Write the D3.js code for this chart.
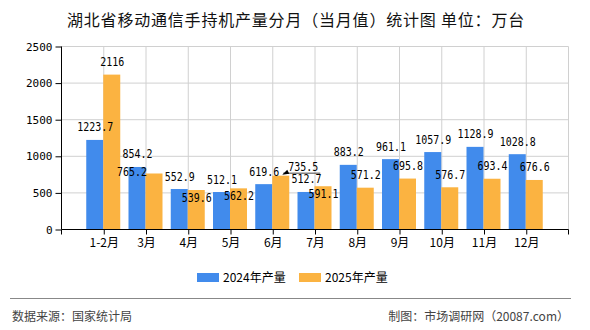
<!DOCTYPE html>
<html>
<head>
<meta charset="utf-8">
<script src="https://cdn.jsdelivr.net/npm/d3@7"></script>
<style>
  body { margin: 0; background: #fff; }
  svg { display: block; }
</style>
</head>
<body>
<svg id="chart" width="590" height="330"></svg>
<script>
// data
var months = ['1-2月', '3月', '4月', '5月', '6月', '7月', '8月', '9月', '10月', '11月', '12月'];
var series = ['2024年产量', '2025年产量'];
var values2024 = [1223.7, 854.2, 552.9, 512.1, 619.6, 512.7, 883.2, 961.1, 1057.9, 1128.9, 1028.8];
var values2025 = [2116, 765.2, 539.6, 562.2, 735.5, 591.1, 571.2, 695.8, 576.7, 693.4, 676.6];
var yTicks = [0, 500, 1000, 1500, 2000, 2500];

var colors = ['#418bec', '#fbb341'];
var monoFont = '"DejaVu Sans Mono", "Liberation Mono", monospace';
var cjkFont = '"Noto Sans CJK SC", "Noto Sans", sans-serif';

var svg = d3.select('#chart');

// plot box (window.top is reserved, so plot* names)
var plotLeft = 61.5, plotRight = 568.5, plotTop = 46.5, plotBottom = 229.5;

var x = d3.scalePoint().domain(months).range([plotLeft, plotRight]).padding(1);
var x1 = d3.scaleBand().domain(series).range([-17, 17]);
var y = d3.scaleLinear().domain([0, 2500]).range([plotBottom, plotTop]);

// title
svg.append('text')
   .attr('x', 296)
   .attr('y', 26)
   .attr('text-anchor', 'middle')
   .attr('font-family', cjkFont)
   .attr('font-size', 16)
   .attr('letter-spacing', 0.8)
   .attr('fill', '#111')
   .text('湖北省移动通信手持机产量分月（当月值）统计图 单位：万台');

// gridlines
var grid = svg.append('g').attr('stroke', '#d0d0d0').attr('stroke-width', 1);
yTicks.filter(t => t > 0).forEach(t => {
  grid.append('line').attr('x1', plotLeft).attr('x2', plotRight).attr('y1', y(t)).attr('y2', y(t));
});
months.forEach(m => {
  grid.append('line').attr('x1', x(m)).attr('x2', x(m)).attr('y1', plotTop).attr('y2', plotBottom);
});
grid.append('line').attr('x1', plotRight).attr('x2', plotRight).attr('y1', plotTop).attr('y2', plotBottom);

// bars
var data = [values2024, values2025];
data.forEach((vals, s) => {
  svg.append('g')
     .selectAll('rect')
     .data(vals)
     .enter()
     .append('rect')
     .attr('x', (d, i) => x(months[i]) + x1(series[s]) - 0.5)
     .attr('y', d => y(d))
     .attr('width', x1.bandwidth())
     .attr('height', d => plotBottom - y(d))
     .attr('fill', colors[s]);
});

// y axis
var yAxis = svg.append('g')
   .attr('transform', 'translate(' + plotLeft + ',0)')
   .call(d3.axisLeft(y).tickValues(yTicks).tickSize(6).tickPadding(3).tickFormat(d3.format('d')));
yAxis.selectAll('text').attr('font-family', monoFont).attr('font-size', 11).attr('fill', '#000');
yAxis.selectAll('line, path').attr('stroke', '#000');
yAxis.select('.domain').attr('d', 'M0,' + plotTop + 'V' + plotBottom);

// x axis
var xAxis = svg.append('g')
   .attr('transform', 'translate(0,' + plotBottom + ')')
   .call(d3.axisBottom(x).tickSize(5).tickPadding(4));
xAxis.selectAll('text').attr('font-family', cjkFont).attr('font-size', 12).attr('fill', '#000');
xAxis.selectAll('line, path').attr('stroke', '#000');
xAxis.select('.domain').attr('d', 'M' + plotLeft + ',5V0H' + plotRight + 'V5');

// value labels; a few are nudged to avoid overlap, as in the reference
var nudge = {
  '1-1': {dx: -22.5, dy: 11.5},
  '1-2': {dx: 0, dy: 20.5},
  '1-3': {dx: 0, dy: 20.5},
  '1-5': {dx: 0, dy: 20.5},
  '1-4': {dx: 22, dy: 3.5, leader: true}
};

var labels = svg.append('g')
   .attr('font-family', monoFont)
   .attr('font-size', 12)
   .attr('fill', '#000');

data.forEach((vals, s) => {
  vals.forEach((v, i) => {
    var n = nudge[s + '-' + i] || {dx: 0, dy: 0};
    var cx = x(months[i]) + x1(series[s]) + x1.bandwidth() / 2;
    var ty = y(v) - 8.5 + n.dy;
    var str = String(v);
    labels.append('text')
          .attr('x', cx + n.dx)
          .attr('y', ty)
          .attr('text-anchor', 'middle')
          .attr('textLength', str.length * 6)
          .attr('lengthAdjust', 'spacingAndGlyphs')
          .text(str);
    if (n.leader)
    {
      var ly = y(v) - 2.5;
      svg.append('line')
         .attr('x1', cx + 2).attr('x2', cx + n.dx + str.length * 3 + 2)
         .attr('y1', ly).attr('y2', ly)
         .attr('stroke', '#444').attr('stroke-width', 1);
      svg.append('path')
         .attr('d', 'M' + (cx + 1) + ',' + (y(v) - 1) + 'l5,-5l2,4z')
         .attr('fill', '#000');
    }
  });
});

// legend
var legend = svg.append('g');
var legendX = [197, 299];
series.forEach((name, s) => {
  legend.append('rect')
        .attr('x', legendX[s]).attr('y', 273)
        .attr('width', 22).attr('height', 9)
        .attr('fill', colors[s]);
  legend.append('text')
        .attr('x', legendX[s] + 26).attr('y', 282)
        .attr('font-family', cjkFont)
        .attr('font-size', 12)
        .attr('fill', '#000')
        .text(name);
});

// footer
svg.append('line')
   .attr('x1', 10).attr('x2', 571)
   .attr('y1', 298.5).attr('y2', 298.5)
   .attr('stroke', '#888').attr('stroke-width', 1);

svg.append('text')
   .attr('x', 12).attr('y', 321)
   .attr('font-family', cjkFont).attr('font-size', 12).attr('fill', '#444')
   .text('数据来源：国家统计局');

svg.append('text')
   .attr('x', 569).attr('y', 321)
   .attr('text-anchor', 'end')
   .attr('font-family', cjkFont).attr('font-size', 12).attr('fill', '#444')
   .text('制图：市场调研网（20087.com）');
</script>
</body>
</html>
